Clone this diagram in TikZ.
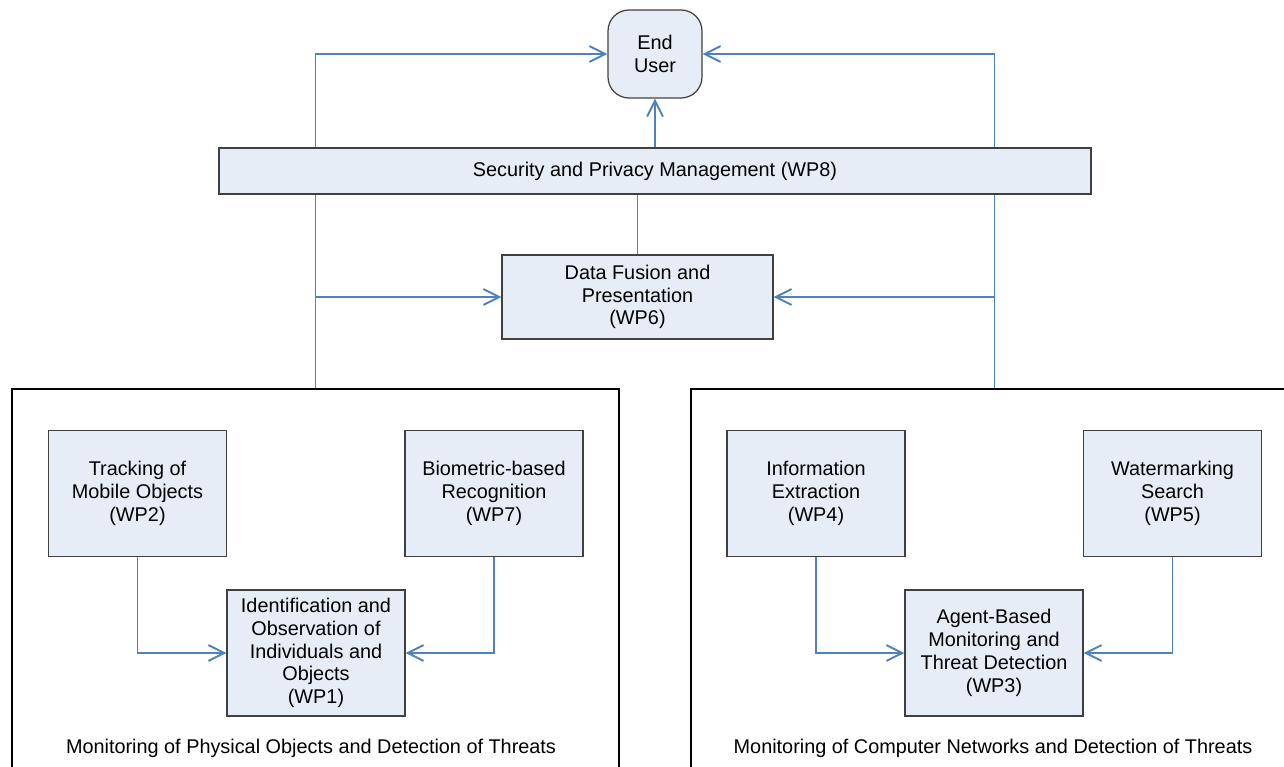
\documentclass[tikz,border=0pt]{standalone}
\usepackage{fontspec}
\setmainfont{Liberation Sans}
\usetikzlibrary{arrows.meta}
\definecolor{wpfill}{RGB}{231,237,247}
\definecolor{wpline}{RGB}{79,129,189}
\definecolor{wpdraw}{RGB}{64,64,64}

\begin{document}
\begin{tikzpicture}[x=0.02cm, y=-0.02cm,
    txt/.style = {align=center, font=\fontsize{11.3}{13}\selectfont},
    wp/.style = {txt, draw=wpdraw, fill=wpfill, line width=0.7pt, inner sep=0pt, minimum width=3.56cm, minimum height=2.52cm},
    group/.style = {draw=black, line width=0.9pt, inner sep=0pt, minimum width=12.14cm, minimum height=8cm},
    flow/.style = {draw=wpline, line width=1.1pt, -{Straight Barb[length=9pt, width=9pt]}},
    link/.style = {draw=wpline, line width=1.1pt}]
    \clip (0,0) rectangle (1284,767);

    \node[wp, rounded corners=0.42cm, minimum width=1.88cm, minimum height=1.76cm] (user) at (655, 54) {End\\User};
    \node[wp, minimum width=5.42cm, minimum height=1.68cm] (fusion) at (637.5, 297) {Data Fusion and\\Presentation\\(WP6)};

    \node[group] (phys) at (315.5, 589) {};
    \node[group] (net) at (994.5, 589) {};
    \node[txt] (physlbl) at (311, 748) {Monitoring of Physical Objects and Detection of Threats};
    \node[txt] (netlbl) at (993, 748) {Monitoring of Computer Networks and Detection of Threats};

    \node[wp] (wp2) at (137.5, 493.5) {Tracking of\\Mobile Objects\\(WP2)};
    \node[wp] (wp7) at (494, 493.5) {Biometric-based\\Recognition\\(WP7)};
    \node[wp] (wp1) at (316, 653) {Identification and\\Observation of\\Individuals and\\Objects\\(WP1)};
    \node[wp] (wp4) at (816, 493.5) {Information\\Extraction\\(WP4)};
    \node[wp] (wp5) at (1172.5, 493.5) {Watermarking\\Search\\(WP5)};
    \node[wp] (wp3) at (994, 653) {Agent-Based\\Monitoring and\\Threat Detection\\(WP3)};

    \draw[flow] (phys.north) |- (user.west);
    \draw[flow] (net.north) |- (user.east);
    \draw[flow] (phys.north |- fusion.west) -- (fusion.west);
    \draw[flow] (net.north |- fusion.east) -- (fusion.east);
    \draw[link] (fusion.north) -- ++(0,-60);

    \node[wp, minimum width=17.44cm, minimum height=0.92cm] (sec) at (655, 171) {Security and Privacy Management (WP8)};
    \draw[flow] (sec.north) -- (user.south);

    \draw[flow] (wp2.south) |- (wp1.west);
    \draw[flow] (wp7.south) |- (wp1.east);
    \draw[flow] (wp4.south) |- (wp3.west);
    \draw[flow] (wp5.south) |- (wp3.east);
\end{tikzpicture}
\end{document}
